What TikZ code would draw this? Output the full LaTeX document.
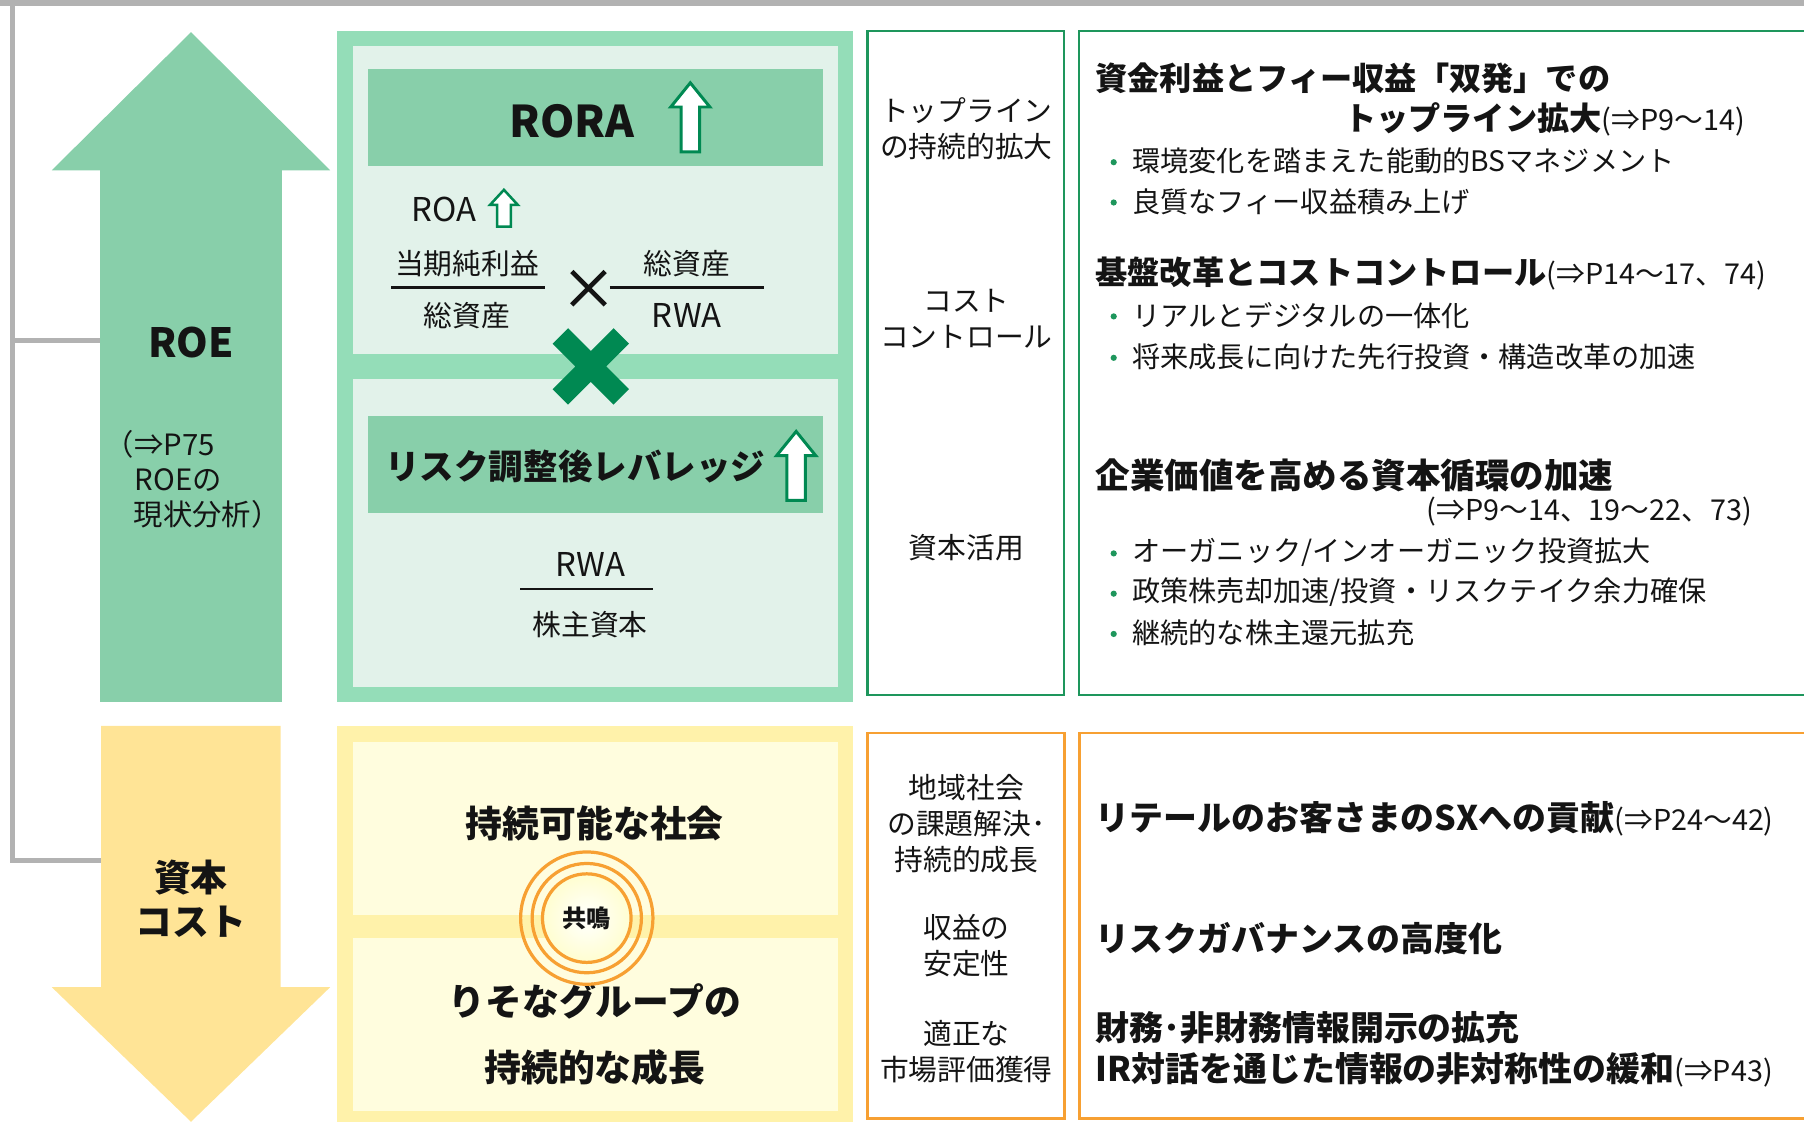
\documentclass[tikz,border=0pt]{standalone}
\usepackage{fontspec}
\setmainfont{Noto Sans CJK JP}
\usetikzlibrary{calc}
\definecolor{mgreen}{RGB}{136,207,170}
\definecolor{fgreen}{RGB}{148,221,184}
\definecolor{pgreen}{RGB}{226,242,234}
\definecolor{dgreen}{RGB}{0,137,82}
\definecolor{bgreen}{RGB}{30,150,92}
\definecolor{yarrow}{RGB}{255,228,150}
\definecolor{yframe}{RGB}{255,242,170}
\definecolor{ypanel}{RGB}{255,253,222}
\definecolor{orng}{RGB}{247,160,50}
\definecolor{lgray}{RGB}{178,178,178}
\definecolor{ink}{RGB}{20,20,20}
\tikzset{
  txt/.style={inner sep=0pt, text=ink, font=\fontsize{#1}{#1}\selectfont},
  btxt/.style={inner sep=0pt, text=ink, font=\fontsize{#1}{#1}\selectfont\bfseries},
  ctxt/.style={inner sep=0pt, text=ink, align=center, font=\fontsize{#1}{31}\selectfont},
  greenbox/.style={draw=bgreen, line width=2pt},
  orangebox/.style={draw=orng, line width=2.4pt},
  grayline/.style={draw=lgray, line width=4pt},
  fracline/.style={draw=ink, line width=2pt},
  bulletdot/.style={fill=bgreen},
  ring/.style={draw=orng, line width=2.8pt},
  pics/hollowup/.style n args={5}{code={
    \draw[dgreen, line width=#5, fill=white, line join=miter]
      (-#3,0) -- (-#3,{-(#1-#4)}) -- (-#2,{-(#1-#4)}) -- (0,-#1)
      -- (#2,{-(#1-#4)}) -- (#3,{-(#1-#4)}) -- (#3,0) -- cycle;
  }}
}
\newcommand{\refs}[1]{{\mdseries\fontsize{25}{25}\selectfont #1}}
\begin{document}
\begin{tikzpicture}[x=1pt,y=-1pt]
\useasboundingbox (0,0) rectangle (1568,975);
% top rule
\fill[lgray] (0,0) rectangle (1568,5.5);

% ---------- left arrows ----------
\fill[mgreen] (87,610) -- (87,148) -- (45,148) -- (166,28) -- (287,148) -- (245,148) -- (245,610) -- cycle;
\fill[yarrow] (88,631) -- (244,631) -- (244,858) -- (287,858) -- (166,975) -- (45,858) -- (88,858) -- cycle;
\coordinate (top) at (11,0);
\coordinate (roeL) at (87,296);
\coordinate (costL) at (88,748);
\draw[grayline] (top) |- (costL);
\draw[grayline] (top |- roeL) -- (roeL);

\node[btxt=35] (roe) at (166,298) {ROE};
\node[txt=25.5, anchor=west] (roe1) at (91,386) {（⇒P75};
\node[txt=25.5, anchor=west] (roe2) at (117,417) {ROEの};
\node[txt=25.5, anchor=west] (roe3) at (116,447) {現状分析）};
\node[btxt=32] (cost1) at (166,763) {資本};
\node[btxt=32] (cost2) at (166,801) {コスト};

% ---------- green block ----------
\fill[fgreen] (293,27) rectangle (741,610);
\fill[pgreen] (307,40) rectangle (728,308);
\fill[pgreen] (307,329) rectangle (728,597);
\fill[mgreen] (320,60) rectangle (715,144);
\fill[mgreen] (320,362) rectangle (715,446);

\node[btxt=38] (rora) at (497,105) {RORA};
\pic at (600,132) {hollowup={60}{17}{8}{21}{2.6pt}};
\node[txt=28.5] (roa) at (386,182) {ROA};
\pic at (438,197) {hollowup={32}{12}{6}{13}{2.2pt}};

\node[txt=25] (n1) at (406,229) {当期純利益};
\node[txt=25] (d1) at (406,274) {総資産};
\draw[fracline] (340,250) -- (474,250);
\node[txt=25] (n2) at (597,229) {総資産};
\node[txt=28.5] (d2) at (597,274) {RWA};
\draw[fracline] (530,250) -- (664,250);
\draw[ink, line width=4pt] (497,236) -- (526,265) (497,265) -- (526,236);

\draw[dgreen, line width=19pt] (487,292) -- (540,345) (487,345) -- (540,292);

\node[btxt=30] (lev) at (500,405) {リスク調整後レバレッジ};
\pic at (692,435) {hollowup={60}{17}{8}{21}{2.6pt}};
\node[txt=28.5] (n3) at (513,491) {RWA};
\draw[fracline] (452,512) -- (568,512);
\node[txt=25] (d3) at (513,543) {株主資本};

% ---------- yellow block ----------
\fill[yframe] (293,631) rectangle (741,975);
\fill[ypanel] (307,645) rectangle (728,795);
\fill[ypanel] (307,815) rectangle (728,966);
\node[btxt=32] (soc) at (517,716) {持続可能な社会};
\node[btxt=32] (grp1) at (517,870) {りそなグループの};
\node[btxt=32] (grp2) at (517,928) {持続的な成長};
\draw[ring] (510,798) circle (57.5);
\draw[ring] (510,798) circle (47.5);
\shade[inner color=white, outer color=ypanel!80!yellow!60!white] (510,798) circle (38);
\draw[ring] (510,798) circle (38.5);
\node[btxt=21] (kyo) at (510,798) {共鳴};

% ---------- middle/right green boxes ----------
\draw[greenbox] (754,27) rectangle (925,604);
\draw[greenbox] (938,27) rectangle (1590,604);
\node[ctxt=25] (m1) at (840,112) {トップライン\\の持続的拡大};
\node[ctxt=25] (m2) at (840,277) {コスト\\コントロール};
\node[ctxt=25] (m3) at (840,476) {資本活用};

\node[btxt=28, anchor=west] (h1) at (952,68) {資金利益とフィー収益「双発」での};
\node[btxt=28, anchor=west] (h1b) at (1168,104) {トップライン拡大\refs{(⇒P9～14)}};
\fill[bulletdot] (968,141) circle (2.7);
\node[txt=24.5, anchor=west] (b1) at (984,140) {環境変化を踏まえた能動的BSマネジメント};
\fill[bulletdot] (968,176) circle (2.7);
\node[txt=24.5, anchor=west] (b2) at (984,175) {良質なフィー収益積み上げ};

\node[btxt=28, anchor=west] (h2) at (952,238) {基盤改革とコストコントロール\refs{(⇒P14～17、74)}};
\fill[bulletdot] (968,275) circle (2.7);
\node[txt=24.5, anchor=west] (b3) at (984,274) {リアルとデジタルの一体化};
\fill[bulletdot] (968,311) circle (2.7);
\node[txt=24.5, anchor=west] (b4) at (984,310) {将来成長に向けた先行投資・構造改革の加速};

\node[btxt=30, anchor=west] (h3) at (952,413) {企業価値を高める資本循環の加速};
\node[txt=25, anchor=east] (h3r) at (1523,445) {(⇒P9～14、19～22、73)};
\fill[bulletdot] (968,481) circle (2.7);
\node[txt=24.5, anchor=west] (b5) at (984,480) {オーガニック/インオーガニック投資拡大};
\fill[bulletdot] (968,516) circle (2.7);
\node[txt=24.5, anchor=west] (b6) at (984,515) {政策株売却加速/投資・リスクテイク余力確保};
\fill[bulletdot] (968,551) circle (2.7);
\node[txt=24.5, anchor=west] (b7) at (984,550) {継続的な株主還元拡充};

% ---------- middle/right orange boxes ----------
\draw[orangebox] (754,637) rectangle (925,972);
\draw[orangebox] (938,637) rectangle (1590,972);
\node[ctxt=25] (o1) at (840,716) {地域社会\\の課題解決･\\持続的成長};
\node[ctxt=25] (o2) at (840,822) {収益の\\安定性};
\node[ctxt=25] (o3) at (840,914) {適正な\\市場評価獲得};

\node[btxt=29.5, anchor=west] (r1) at (952,712) {リテールのお客さまのSXへの貢献\refs{(⇒P24～42)}};
\node[btxt=29.5, anchor=west] (r2) at (952,816) {リスクガバナンスの高度化};
\node[btxt=29.5, anchor=west] (r3) at (952,893) {財務･非財務情報開示の拡充};
\node[btxt=29.5, anchor=west] (r4) at (952,930) {IR対話を通じた情報の非対称性の緩和\refs{(⇒P43)}};
\end{tikzpicture}
\end{document}
